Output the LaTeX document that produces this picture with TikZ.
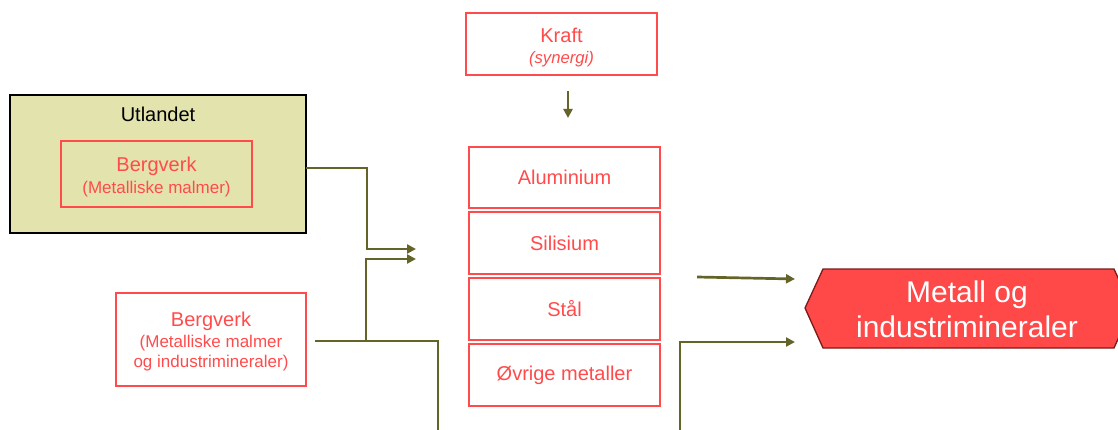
\documentclass[tikz,border=0pt]{standalone}
\usepackage{fontspec}
\setmainfont{Liberation Sans}
\usetikzlibrary{arrows.meta}
\definecolor{rtxt}{HTML}{FF4B4B}
\definecolor{olive}{HTML}{646428}
\definecolor{ufill}{HTML}{E3E3AE}
\definecolor{hfill}{HTML}{FF4848}
\definecolor{hdraw}{HTML}{7A1A1A}
\tikzset{
  rbox/.style={draw=rtxt, line width=1.3pt, text=rtxt, align=center, inner sep=0pt},
  rtext/.style={text=rtxt, align=center, inner sep=0pt},
  flow/.style={draw=olive, line width=2.7pt, -{Triangle[length=9pt,width=9pt]}},
  flowline/.style={draw=olive, line width=2.7pt},
  big/.style={font=\fontsize{20}{22}\selectfont},
  small/.style={font=\fontsize{17}{20}\selectfont}
}
\begin{document}
\begin{tikzpicture}[x=1pt,y=-1pt]
\useasboundingbox (0,0) rectangle (1118,430);
% Kraft
\node[rbox, minimum width=191pt, minimum height=62pt] (kraft) at (561.5,44) {};
\node[rtext, big] (kraftt) at (561.5,47.5)
  {Kraft\\[-1pt]{\fontsize{16.7}{20}\selectfont\itshape (synergi)}};
% central stack
\node[rbox, minimum width=191pt, minimum height=61pt, big] (alu) at (564.5,177.5) {Aluminium};
\node[rbox, minimum width=191pt, minimum height=62pt, big] (sil) at (564.5,243) {Silisium};
\node[rbox, minimum width=191pt, minimum height=62pt, big] (stal) at (564.5,309) {Stål};
\node[rbox, minimum width=191pt, minimum height=62pt, big] (ovr) at (564.5,375) {Øvrige metaller};
% Utlandet
\node[draw=black, fill=ufill, line width=1.5pt, minimum width=296pt, minimum height=138pt, inner sep=0pt] (utl) at (158,164) {};
\node[big, text=black] (utltxt) at (158,114) {Utlandet};
\node[rbox, minimum width=191pt, minimum height=66pt] (berg1) at (156.5,174) {};
\node[rtext, big] (berg1t) at (156.5,177)
  {Bergverk\\{\fontsize{17}{20}\selectfont (Metalliske malmer)}};
% Bergverk 2
\node[rbox, minimum width=190pt, minimum height=93pt] (berg2) at (211,339.5) {};
\node[rtext, big] (berg2t) at (211,342)
  {Bergverk\\[-1pt]{\fontsize{17}{20}\selectfont (Metalliske malmer}\\[-2pt]{\fontsize{17}{20}\selectfont og industrimineraler)}};
% Metall hexagon
\draw[fill=hfill, draw=hdraw, line width=1.3pt] (805,308) -- (823,269) -- (1114,269) -- (1132,308) -- (1114,348) -- (823,348) -- cycle;
\node[text=white, align=center, font=\fontsize{30}{35}\selectfont] (metall) at (967,309) {Metall og\\industrimineraler};
% coordinates
\coordinate (u1) at (306,168);
\coordinate (in1) at (416,249);
\coordinate (in2) at (416,259);
\coordinate (s2) at (315,341);
\coordinate (j2) at (366,341);
\coordinate (b2) at (438,430);
\coordinate (r1s) at (697,277);
\coordinate (r1e) at (795,279);
\coordinate (r2s) at (680,430);
\coordinate (r2e) at (795,342);
\coordinate (k1) at (568,91);
\coordinate (k2) at (568,118);
% connectors
\draw[flow] (k1) -- (k2);
\draw[flow] (u1) -- (367,168) -- (367,249) -- (in1);
\draw[flowline] (s2) -- (438,341) -- (b2);
\draw[flow] (j2) -- (366,259) -- (in2);
\draw[flow] (r1s) -- (r1e);
\draw[flow] (r2s) -- (680,342) -- (r2e);
\end{tikzpicture}
\end{document}
